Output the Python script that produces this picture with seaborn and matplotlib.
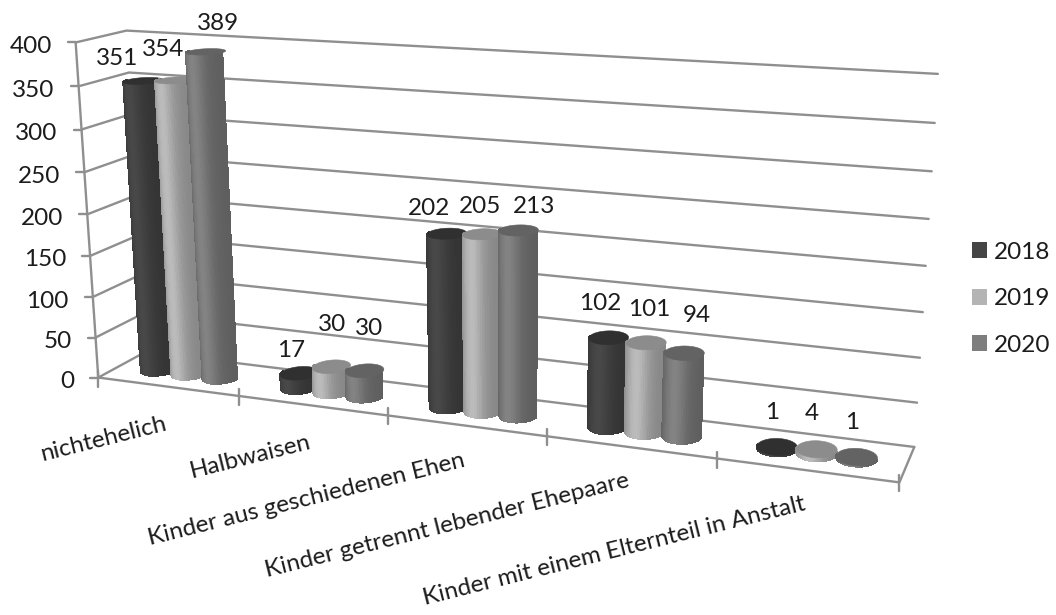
import numpy as np
import pandas as pd
import matplotlib
matplotlib.use('Agg')
import matplotlib.pyplot as plt
import seaborn as sns
from matplotlib.collections import PolyCollection
from matplotlib.patches import Patch

# ----------------------- #
# Data
# ----------------------- #
categories = ['nichtehelich', 'Halbwaisen', 'Kinder aus geschiedenen Ehen',
              'Kinder getrennt lebender Ehepaare', 'Kinder mit einem Elternteil in Anstalt']
years = ['2018', '2019', '2020']
values_2018 = [351, 17, 202, 102, 1]
values_2019 = [354, 30, 205, 101, 4]
values_2020 = [389, 30, 213, 94, 1]
value_ticks = [0, 50, 100, 150, 200, 250, 300, 350, 400]

# label shift from the top of each cylinder, in pixels
label_shift = [[(-26, -22), (-12, -31), (12, -28)],
               [(-8, -23), (0, -42), (4, -42)],
               [(-18, -25), (-2, -28), (16, -24)],
               [(-8, -34), (3, -33), (13, -38)],
               [(-5, -34), (-5, -36), (-5, -34)]]
# category label baseline, pixels below the front edge
category_drop = [43, 42, 41, 39, 40]

sns.set_theme(style='white')
plt.rcParams['font.family'] = ['Lato', 'DejaVu Sans']

body_colors = sns.color_palette(['#454545', '#b4b4b4', '#7e7e7e'])
top_colors = sns.color_palette(['#303030', '#8c8c8c', '#636363'])
grid_color = '#8f8f8f'
text_color = '#1c1c1c'
font_pt = 17.5

# ----------------------- #
# Perspective of the 3D chart box: (category, depth, value) -> pixels
# ----------------------- #
frame_world = [(0, 0, 0), (1, 0, 0), (2, 0, 0), (3, 0, 0), (4, 0, 0), (5, 0, 0),
               (0, 1, 0), (5, 1, 0), (0, 0, 400), (0, 1, 400), (5, 1, 400),
               (5, 1, 200), (0, 0, 200)]
frame_px = [(98, 377), (239, 396), (387, 416), (548, 437), (717, 459), (899, 482),
            (146, 352), (914, 447), (76, 43), (126, 31), (938, 74),
            (926, 265), (87, 213)]

rows = []
for (u, w, v), (px, py) in zip(frame_world, frame_px):
    X = [u / 5, w, v / 400, 1]
    rows.append(X + [0, 0, 0, 0] + [-px / 1000 * c for c in X])
    rows.append([0, 0, 0, 0] + X + [-py / 1000 * c for c in X])
camera = np.linalg.svd(np.array(rows))[2][-1].reshape(3, 4)


def project(u, w, v):
    u, w, v = np.broadcast_arrays(u, w, v)
    X = np.stack([u / 5, w, v / 400, np.ones_like(u, dtype=float)])
    p = camera @ X
    return p[0] / p[2] * 1000, p[1] / p[2] * 1000


fig = plt.figure(figsize=(10.56, 6.15), dpi=100)
ax = fig.add_axes([0, 0, 1, 1])

# ----------------------- #
# Walls, floor and ticks
# ----------------------- #
frame_rows = []
for v in value_ticks:
    for u, w in [(0, 0), (0, 1), (5, 1)]:
        x, y = project(u, w, v)
        frame_rows.append((f'grid{v}', float(x), float(y)))
    x, y = project(0, 0, v)
    frame_rows.append((f'tick{v}', float(x) - 8, float(y)))
    frame_rows.append((f'tick{v}', float(x), float(y)))
for name, pts in [('left', [(0, 0, 0), (0, 0, 400)]),
                  ('floor', [(0, 0, 0), (5, 0, 0), (5, 1, 0)])]:
    for u, w, v in pts:
        x, y = project(u, w, v)
        frame_rows.append((name, float(x), float(y)))
for i in range(6):
    x, y = project(i, 0, 0)
    frame_rows.append((f'cat{i}', float(x), float(y) - 7))
    frame_rows.append((f'cat{i}', float(x), float(y) + 9))
frame_df = pd.DataFrame(frame_rows, columns=['part', 'px', 'py'])
sns.lineplot(data=frame_df, x='px', y='py', units='part', estimator=None, sort=False,
             color=grid_color, linewidth=1.7, ax=ax, legend=False, zorder=1)

# ----------------------- #
# Cylinders
# ----------------------- #
radius_u = 0.112
radius_w = 0.24
theta_top = np.linspace(0, 2 * np.pi, 73)
theta_front = np.linspace(np.pi, 2 * np.pi, 37)


def shade(color, t):
    # lit a little left of the middle, darker towards both edges
    k = 0.74 + 0.30 * np.exp(-((t - 0.45) / 0.32) ** 2)
    return tuple(min(1, c * k) for c in color)


series = [values_2018, values_2019, values_2020]
for i in range(len(categories)):
    for j, vals in enumerate(series):
        val = vals[i]
        cu = i + 0.5 + (j - 1) * 2 * radius_u
        cw = 0.5
        bx, by = project(cu + radius_u * np.cos(theta_front), cw + radius_w * np.sin(theta_front), 0)
        tx, ty = project(cu + radius_u * np.cos(theta_front), cw + radius_w * np.sin(theta_front), val)
        quads, colors = [], []
        for k in range(len(theta_front) - 1):
            quads.append([(bx[k], by[k]), (bx[k + 1], by[k + 1]), (tx[k + 1], ty[k + 1]), (tx[k], ty[k])])
            colors.append(shade(body_colors[j], 0.5 * (1 - np.cos(theta_front[k] + np.pi / 72 - np.pi))))
        z = 3 + i * 3 + j
        ax.add_collection(PolyCollection(quads, facecolors=colors, edgecolors=colors,
                                         linewidths=0.7, antialiaseds=False, zorder=z))
        ex, ey = project(cu + radius_u * np.cos(theta_top), cw + radius_w * np.sin(theta_top), val)
        ax.fill(ex, ey, color=top_colors[j], lw=0.4, zorder=z + 0.5)

        x, y = project(cu, cw, val)
        ax.text(float(x) + label_shift[i][j][0], float(y) + label_shift[i][j][1], str(val),
                ha='center', va='center', fontsize=font_pt, color=text_color, zorder=30)

# ----------------------- #
# Text
# ----------------------- #
for v in value_ticks:
    x, y = project(0, 0, v)
    ax.text(float(x) - 24, float(y) + 4, str(v), ha='right', va='center',
            fontsize=font_pt, color=text_color)

for i, name in enumerate(categories):
    x, y = project(i + 0.5, 0, 0)
    ax.text(float(x), float(y) + category_drop[i], name, ha='right', va='baseline', rotation=14,
            rotation_mode='anchor', fontsize=font_pt, color=text_color)

handles = [Patch(facecolor=c, edgecolor='none', label=y) for c, y in zip(body_colors, years)]
ax.legend(handles=handles, loc='upper left', bbox_to_anchor=(950 / 1056, 1 - 220 / 615),
          bbox_transform=fig.transFigure, frameon=False, fontsize=font_pt, labelcolor=text_color,
          handlelength=0.62, handleheight=0.62, handletextpad=0.3, labelspacing=1.05)

ax.set_xlim(0, 1056)
ax.set_ylim(615, 0)
ax.axis('off')

fig.savefig('out.png', dpi=100)
